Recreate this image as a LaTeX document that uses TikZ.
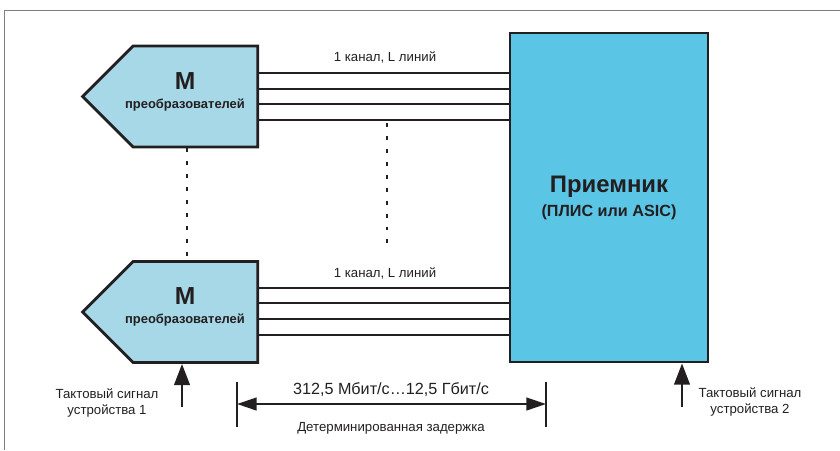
\documentclass[tikz,border=0pt]{standalone}
\usepackage{fontspec}
\setmainfont{Liberation Sans}
\usepackage{xcolor}
\usetikzlibrary{arrows.meta}
\usetikzlibrary{positioning}
\usetikzlibrary{shapes.symbols}

\definecolor{convfill}{RGB}{166,216,232}
\definecolor{rxfill}{RGB}{91,197,230}
\definecolor{ink}{RGB}{35,31,32}

\begin{document}
\begin{tikzpicture}[x=0.025cm, y=-0.025cm, text=ink,
    conv/.style={draw=ink, line width=2pt, fill=convfill, shape=signal, signal to=west, signal pointer angle=90, minimum width=4.375cm, minimum height=2.525cm, inner sep=0pt},
    rx/.style={draw=ink, line width=2pt, fill=rxfill, minimum width=4.95cm, minimum height=8.225cm, inner sep=0pt, align=center},
    wire/.style={draw=ink, line width=1.7pt},
    dots/.style={draw=ink, line width=1.5pt, dash pattern=on 2.8pt off 6.4pt},
    clk/.style={draw=ink, line width=1.8pt, -{Triangle[length=15pt, width=11pt]}},
    small/.style={font=\fontsize{9.4}{11.5}\selectfont, align=center, inner sep=0pt}]
  \useasboundingbox (0,0) rectangle (840,450);
  \draw[gray, line width=0.7pt] (4,450) -- (4,10) -- (840,10);

  \node[conv] (conv1) at (195.5,96.5) {};
  \node[conv] (conv2) at (195.5,312) {};
  \node[rx] (rx) at (609,197.5) {\fontsize{17}{20}\selectfont\bfseries Приемник\\[5pt]
    \fontsize{11.5}{13}\selectfont\bfseries (ПЛИС или ASIC)};

  \node[align=center, inner sep=0pt] (t1) at (185,92) {\fontsize{17.5}{20}\selectfont\bfseries M\\[1pt]
    \fontsize{9.2}{11}\selectfont\bfseries преобразователей};
  \node[align=center, inner sep=0pt] (t2) at (185,307) {\fontsize{17.5}{20}\selectfont\bfseries M\\[1pt]
    \fontsize{9.2}{11}\selectfont\bfseries преобразователей};

  \foreach \y in {73,89,104,120} \draw[wire] (conv1.east |- 0,\y) -- (rx.west |- 0,\y);
  \foreach \y in {288,303,319,335} \draw[wire] (conv2.east |- 0,\y) -- (rx.west |- 0,\y);
  \node[small] (ch1) at (385,57) {1 канал, L линий};
  \node[small] (ch2) at (385,273) {1 канал, L линий};

  \draw[dots] (conv1.south -| 187,0) -- (conv2.north -| 187,0);
  \coordinate (d1) at (387,123);
  \coordinate (d2) at (387,245);
  \draw[dots] (d1) -- (d2);

  \coordinate (clk1) at (182,407);
  \coordinate (clk2) at (682,407);
  \draw[clk] (clk1) -- (clk1 |- conv2.south);
  \draw[clk] (clk2) -- (clk2 |- rx.south);
  \node[small] (lab1) at (107,403) {Тактовый сигнал\\устройства 1};
  \node[small] (lab2) at (750,402) {Тактовый сигнал\\устройства 2};

  \coordinate (dl) at (237,404);
  \coordinate (dr) at (546,404);
  \draw[ink, line width=1.4pt] ([yshift=-16]dl) -- ([yshift=16]dl);
  \draw[ink, line width=1.4pt] ([yshift=-16]dr) -- ([yshift=16]dr);
  \draw[ink, line width=1.7pt, {Triangle[length=14pt, width=9pt]}-{Triangle[length=14pt, width=9pt]}] (dl) -- (dr);
  \node[inner sep=0pt, font=\fontsize{11.5}{13}\selectfont] (rate) at (391,390) {312,5 Мбит/с…12,5 Гбит/с};
  \node[small] (lat) at (391,428) {Детерминированная задержка};
\end{tikzpicture}
\end{document}
